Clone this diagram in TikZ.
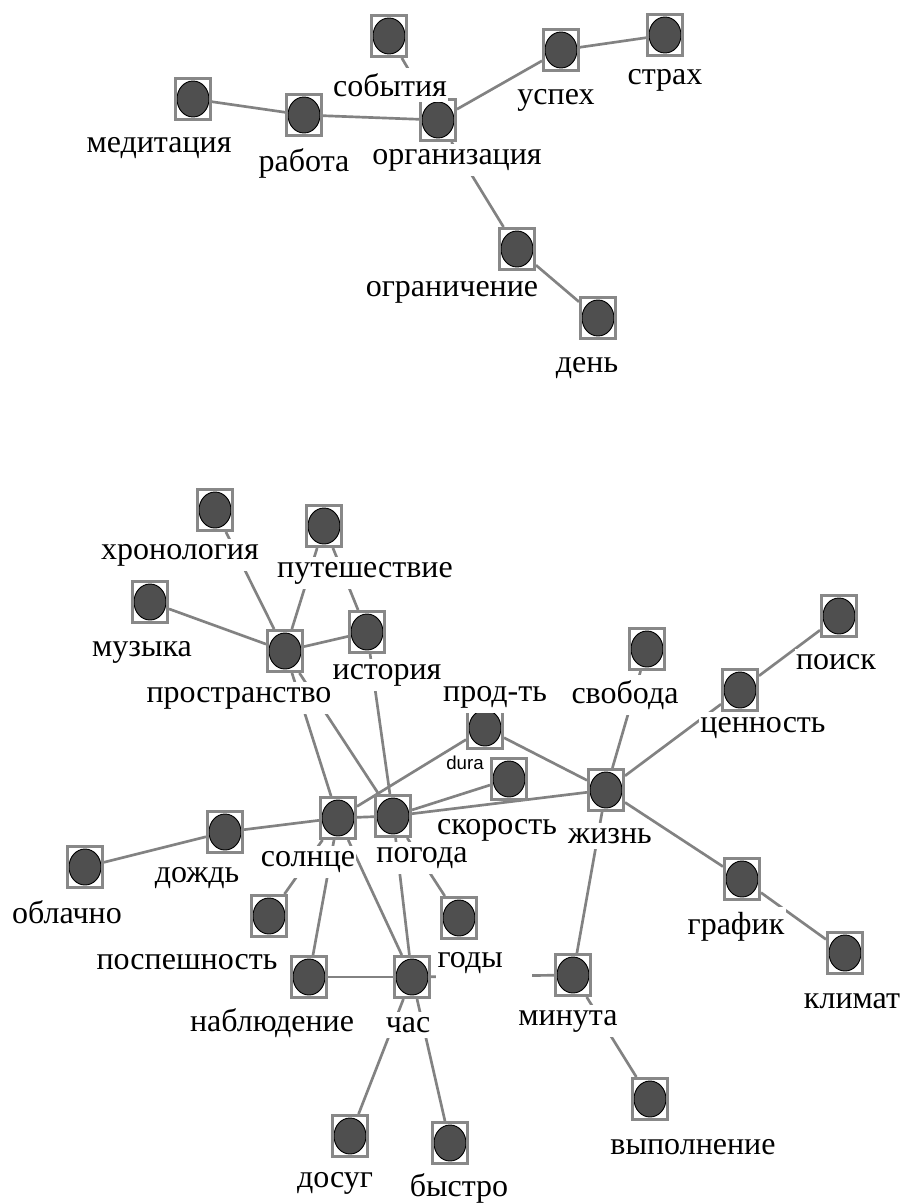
\documentclass[tikz,border=0pt]{standalone}
\usepackage{fontspec}
\setmainfont{Liberation Serif}
\newfontfamily\smallsans{Liberation Sans}
\definecolor{framegray}{HTML}{888888}
\definecolor{circgray}{HTML}{4F4F4F}
\definecolor{edgegray}{HTML}{828282}
\pgfdeclarelayer{edgelayer}
\pgfsetlayers{edgelayer,main}
\begin{document}
\begin{tikzpicture}[x=0.75pt,y=-0.75pt,
  vx/.style={rectangle, draw=framegray, line width=2.25pt, fill=white,
    minimum width=26.25pt, minimum height=30.75pt, inner sep=0pt,
    path picture={\fill[circgray, draw=black, line width=0.7pt]
      (path picture bounding box.center) ellipse [x radius=12pt, y radius=13.5pt];}},
  lbl/.style={fill=white, inner xsep=1pt, inner ysep=4pt, font=\fontsize{24}{24}\selectfont},
  ed/.style={draw=edgegray, line width=2pt}]
\useasboundingbox (0,0) rectangle (903,1203);

% ---------- top cluster nodes
\node[vx] (med) at (193,99) {};
\node[vx] (rab) at (304,115) {};
\node[vx] (sob) at (389,36) {};
\node[vx] (org) at (438,120) {};
\node[vx] (usp) at (561,50) {};
\node[vx] (str) at (665,35) {};
\node[vx] (ogr) at (517,249) {};
\node[vx] (den) at (598,318) {};

% ---------- bottom cluster nodes
\node[vx] (hro) at (215,510) {};
\node[vx] (put) at (324,526) {};
\node[vx] (muz) at (150,602) {};
\node[vx] (pro) at (285,651) {};
\node[vx] (ist) at (367,632) {};
\node[vx] (prd) at (485,728) {};
\node[font=\smallsans\fontsize{14}{14}\selectfont, inner sep=0pt] (dura) at (465,763) {dura};
\node[vx] (sko) at (509,779) {};
\node[vx] (svo) at (647,649) {};
\node[vx] (poi) at (839,616) {};
\node[vx] (cen) at (740,690) {};
\node[vx] (zhi) at (606,790) {};
\node[vx] (sol) at (338,818) {};
\node[vx] (pog) at (393,816) {};
\node[vx] (doz) at (225,832) {};
\node[vx] (obl) at (85,867) {};
\node[vx] (posp) at (269,916) {};
\node[vx] (god) at (459,918) {};
\node[vx] (nab) at (309,977) {};
\node[vx] (chas) at (412,977) {};
\node[vx] (min) at (573,975) {};
\node[vx] (gra) at (742,879) {};
\node[vx] (kli) at (845,953) {};
\node[vx] (vyp) at (650,1099) {};
\node[vx] (dos) at (350,1136) {};
\node[vx] (bys) at (450,1143) {};

% ---------- edges
\begin{pgfonlayer}{edgelayer}
\fill[white] (0,0) rectangle (903,1203);
\draw[ed] (med) -- (rab);
\draw[ed] (rab) -- (org);
\draw[ed] (sob) -- (org);
\draw[ed] (org) -- (usp);
\draw[ed] (usp) -- (str);
\draw[ed] (org) -- (ogr);
\draw[ed] (ogr) -- (den);

\draw[ed] (muz) -- (pro);
\draw[ed] (hro) -- (pro);
\draw[ed] (put) -- (pro);
\draw[ed] (put) -- (ist);
\draw[ed] (pro) -- (ist);
\draw[ed] (pro) -- (sol);
\draw[ed] (pro) -- (pog);
\draw[ed] (ist) -- (pog);
\draw[ed] (sol) -- (prd);
\draw[ed] (sol) -- (pog);
\draw[ed] (doz) -- (sol);
\draw[ed] (obl) -- (doz);
\draw[ed] (pog) -- (sko);
\draw[ed] (pog) -- (zhi);
\draw[ed] (prd) -- (zhi);
\draw[ed] (svo) -- (zhi);
\draw[ed] (cen) -- (zhi);
\draw[ed] (cen) -- (poi);
\draw[ed] (zhi) -- (gra);
\draw[ed] (gra) -- (kli);
\draw[ed] (zhi) -- (min);
\draw[ed] (min) -- (vyp);
\draw[ed] (sol) -- (posp);
\draw[ed] (sol) -- (nab);
\draw[ed] (nab) -- (chas);
\draw[ed] (chas) -- (min);
\draw[ed] (sol) -- (chas);
\draw[ed] (pog) -- (chas);
\draw[ed] (pog) -- (god);
\draw[ed] (chas) -- (dos);
\draw[ed] (chas) -- (bys);
\end{pgfonlayer}

% ---------- labels
\node[lbl] (t-med) at (159,148) {медитация};
\node[lbl] (t-rab) at (304,163) {работа};
\node[lbl] (t-sob) at (390,85) {события};
\node[lbl] (t-org) at (457,160) {организация};
\node[lbl] (t-usp) at (556,100) {успех};
\node[lbl] (t-str) at (665,80) {страх};
\node[lbl] (t-ogr) at (452,292) {ограничение};
\node[lbl] (t-den) at (587,368) {день};

\node[lbl] (t-hro) at (180,555) {хронология};
\node[lbl] (t-put) at (365,573) {путешествие};
\node[lbl] (t-muz) at (142,652) {музыка};
\node[lbl] (t-pro) at (239,698) {пространство};
\node[lbl] (t-ist) at (387,675) {история};
\node[lbl] (t-prd) at (495,697) {прод-ть};
\node[lbl] (t-svo) at (625,695) {свобода};
\node[lbl] (t-poi) at (836,662) {поиск};
\node[lbl] (t-cen) at (763,728) {ценность};
\node[lbl] (t-sko) at (497,830) {скорость};
\node[lbl] (t-zhi) at (610,836) {жизнь};
\node[lbl] (t-obl) at (67,912) {облачно};
\node[lbl] (t-doz) at (197,878) {дождь};
\node[lbl] (t-sol) at (308,862) {солнце};
\node[lbl] (t-pog) at (422,858) {погода};
\node[lbl] (t-posp) at (187,962) {поспешность};
\node[lbl, anchor=west, text width=70pt, align=left] (t-god) at (436,963) {годы};
\node[lbl] (t-nab) at (272,1023) {наблюдение};
\node[lbl] (t-chas) at (408,1025) {час};
\node[lbl] (t-min) at (568,1021) {минута};
\node[lbl] (t-gra) at (736,927) {график};
\node[lbl] (t-kli) at (852,1001) {климат};
\node[lbl] (t-vyp) at (693,1147) {выполнение};
\node[lbl] (t-dos) at (335,1183) {досуг};
\node[lbl] (t-bys) at (459,1188) {быстро};
\end{tikzpicture}
\end{document}
